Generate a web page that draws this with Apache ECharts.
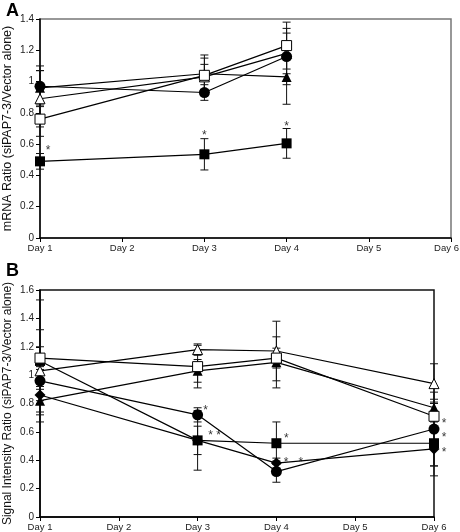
<!DOCTYPE html>
<html><head><meta charset="utf-8">
<script src="https://cdn.jsdelivr.net/npm/echarts@6/dist/echarts.min.js"></script>
<style>html,body{margin:0;padding:0;background:#fff}#c{width:460px;height:532px}</style>
</head><body><div id="c"></div>
<script>
// ---------- data ----------
const categories = ['Day 1', 'Day 2', 'Day 3', 'Day 4', 'Day 5', 'Day 6'];
const yTicksA = [0, 0.2, 0.4, 0.6, 0.8, 1, 1.2, 1.4];
const yTicksB = [0, 0.2, 0.4, 0.6, 0.8, 1, 1.2, 1.4, 1.6];

// Panel A (mRNA ratio)
const daysA = ['Day 1', 'Day 3', 'Day 4'];
const A_filledCircle   = [0.97, 0.93, 1.16];
const A_filledCircleErr = [0.13, 0.05, 0.18];
const A_openSquare     = [0.76, 1.04, 1.23];
const A_openSquareErr  = [0.11, 0.13, 0.15];
const A_filledTriangle = [0.96, 1.05, 1.03];
const A_filledTriangleErr = [0.11, 0.10, 0.175];
const A_openTriangle   = [0.89, 1.03, 1.18];
const A_openTriangleErr = [0.18, 0.08, 0.13];
const A_filledSquare   = [0.49, 0.535, 0.605];
const A_filledSquareErr = [0.05, 0.10, 0.095];
const starsA = [['Day 1', 0.585, '*'], ['Day 3', 0.68, '*'], ['Day 4', 0.735, '*']];
const starsAOffset = [8, 0, 0];

// Panel B (signal intensity ratio)
const daysB = ['Day 1', 'Day 3', 'Day 4', 'Day 6'];
const B_openTriangle   = [1.03, 1.18, 1.17, 0.94];
const B_openTriangleErr = [0.29, 0.04, 0.21, 0.14];
const B_openSquare     = [1.12, 1.06, 1.12, 0.71];
const B_openSquareErr  = [0.08, 0.15, 0.07, 0.10];
const B_filledTriangle = [0.82, 1.03, 1.09, 0.77];
const B_filledTriangleErr = [0.10, 0.08, 0.18, 0.06];
const B_filledCircle   = [0.96, 0.72, 0.32, 0.62];
const B_filledCircleErr = [0.10, 0.05, 0.075, 0.26];
const B_filledSquare   = [1.10, 0.54, 0.52, 0.52];
const B_filledSquareErr = [0.43, 0.21, 0.15, 0.16];
const B_filledDiamond  = [0.86, 0.54, 0.38, 0.48];
const B_filledDiamondErr = [0.04, 0.10, 0.035, 0.19];
const starsB = [['Day 3', 0.777, '*'], ['Day 3', 0.60, '* *'], ['Day 4', 0.577, '*'], ['Day 4', 0.41, '*   *'],
                ['Day 6', 0.687, '*'], ['Day 6', 0.588, '*'], ['Day 6', 0.478, '*']];
const starsBOffset = [8, 17, 10, 17, 10, 10, 10];

// ---------- helpers ----------
const FONT = 'Liberation Sans, Arial, sans-serif';
function errRender(params, api) {
  const x = api.value(0), y = api.value(1), e = api.value(2);
  const t = api.coord([x, y + e]), b = api.coord([x, y - e]);
  const w = 4;
  const st = { stroke: '#111', lineWidth: 1 };
  return { type: 'group', children: [
    { type: 'line', shape: { x1: t[0], y1: t[1], x2: b[0], y2: b[1] }, style: st },
    { type: 'line', shape: { x1: t[0] - w, y1: t[1], x2: t[0] + w, y2: t[1] }, style: st },
    { type: 'line', shape: { x1: b[0] - w, y1: b[1], x2: b[0] + w, y2: b[1] }, style: st }
  ]};
}
function pairs(days, vals) { return days.map((d, i) => [d, vals[i]]); }
function triples(days, vals, errs) { return days.map((d, i) => [d, vals[i], errs[i]]); }

function lineSeries(idx, days, vals, symbol, open, size) {
  return {
    type: 'line', xAxisIndex: idx, yAxisIndex: idx,
    data: pairs(days, vals), symbol: symbol, symbolSize: size || 10,
    lineStyle: { color: '#000', width: 1.2 },
    itemStyle: open ? { color: '#fff', borderColor: '#000', borderWidth: 1 } : { color: '#000', borderColor: '#000', borderWidth: 0 },
    showAllSymbol: true, animation: false, z: 3
  };
}
function errSeries(idx, days, vals, errs) {
  return { type: 'custom', xAxisIndex: idx, yAxisIndex: idx, renderItem: errRender,
    data: triples(days, vals, errs), encode: { x: 0, y: 1 }, z: 2, animation: false, silent: true };
}
function starSeries(idx, stars, offs) {
  return { type: 'scatter', xAxisIndex: idx, yAxisIndex: idx, symbolSize: 0, animation: false, z: 5,
    data: stars.map((s, i) => ({ value: [s[0], s[1]], label: { offset: [offs[i], 4] }, name: s[2] })),
    label: { show: true, position: 'inside', formatter: p => p.name, color: '#000', fontSize: 12, fontFamily: FONT } };
}
function axisX(idx, shiftLast) {
  return { type: 'category', gridIndex: idx, data: categories, boundaryGap: false,
    axisLine: { lineStyle: { color: '#000', width: 1.5 } },
    axisTick: { show: true, inside: false, length: 4, lineStyle: { color: '#000' } },
    axisLabel: { color: '#222', fontSize: 9.5, fontFamily: FONT, margin: 5, showMaxLabel: true, showMinLabel: true, interval: 0,
      formatter: (v, i) => (shiftLast && i === categories.length - 1) ? '{r|' + v + '}' : v,
      rich: { r: { fontSize: 9.5, fontFamily: FONT, color: '#222', padding: [0, 9, 0, 0] } } },
    splitLine: { show: false } };
}
function axisY(idx, ticks, name, nameSize) {
  return { type: 'value', gridIndex: idx, min: 0, max: ticks[ticks.length - 1], interval: 0.2,
    name: name, nameLocation: 'middle', nameGap: 26, nameMoveOverlap: false,
    nameTextStyle: { color: '#111', fontSize: nameSize, fontFamily: FONT },
    axisLine: { show: true, lineStyle: { color: '#000', width: 1.5 } },
    axisTick: { show: true, inside: false, length: 4, lineStyle: { color: '#000' } },
    axisLabel: { color: '#222', fontSize: 10, fontFamily: FONT, margin: 6,
      formatter: v => String(Math.round(v * 10) / 10) },
    splitLine: { show: false } };
}

const option = {
  backgroundColor: '#fff',
  animation: false,
  title: [
    { text: 'A', left: 1, top: -3, textStyle: { fontSize: 18, fontWeight: 'bold', fontFamily: FONT, color: '#000' } },
    { text: 'B', left: 1, top: 257, textStyle: { fontSize: 18, fontWeight: 'bold', fontFamily: FONT, color: '#000' } }
  ],
  grid: [
    { left: 40, top: 19, width: 411, height: 219, show: true, borderColor: '#777', borderWidth: 1.5, containLabel: false, outerBoundsMode: 'none' },
    { left: 40, top: 290, width: 394, height: 227, show: true, borderColor: '#111', borderWidth: 1.5, containLabel: false, outerBoundsMode: 'none' }
  ],
  xAxis: [axisX(0, true), axisX(1, false)],
  yAxis: [
    axisY(0, yTicksA, 'mRNA Ratio (siPAP7-3/Vector alone)', 12.5),
    axisY(1, yTicksB, 'Signal Intensity Ratio (siPAP7-3/Vector alone)', 12)
  ],
  series: [
    errSeries(0, daysA, A_filledCircle, A_filledCircleErr),
    errSeries(0, daysA, A_openSquare, A_openSquareErr),
    errSeries(0, daysA, A_filledTriangle, A_filledTriangleErr),
    errSeries(0, daysA, A_openTriangle, A_openTriangleErr),
    errSeries(0, daysA, A_filledSquare, A_filledSquareErr),
    lineSeries(0, daysA, A_openTriangle, 'triangle', true, 10),
    lineSeries(0, daysA, A_filledTriangle, 'triangle', false, 10),
    lineSeries(0, daysA, A_openSquare, 'rect', true, 10),
    lineSeries(0, daysA, A_filledCircle, 'circle', false, 11),
    lineSeries(0, daysA, A_filledSquare, 'rect', false, 10),
    starSeries(0, starsA, starsAOffset),

    errSeries(1, daysB, B_openTriangle, B_openTriangleErr),
    errSeries(1, daysB, B_openSquare, B_openSquareErr),
    errSeries(1, daysB, B_filledTriangle, B_filledTriangleErr),
    errSeries(1, daysB, B_filledCircle, B_filledCircleErr),
    errSeries(1, daysB, B_filledSquare, B_filledSquareErr),
    errSeries(1, daysB, B_filledDiamond, B_filledDiamondErr),
    lineSeries(1, daysB, B_filledTriangle, 'triangle', false, 10),
    lineSeries(1, daysB, B_openTriangle, 'triangle', true, 10),
    lineSeries(1, daysB, B_filledDiamond, 'diamond', false, 11),
    lineSeries(1, daysB, B_filledCircle, 'circle', false, 11),
    lineSeries(1, daysB, B_filledSquare, 'rect', false, 10),
    lineSeries(1, daysB, B_openSquare, 'rect', true, 10),
    starSeries(1, starsB, starsBOffset)
  ]
};
const chart = echarts.init(document.getElementById('c'), null, { renderer: 'canvas' });
chart.setOption(option);
</script></body></html>
